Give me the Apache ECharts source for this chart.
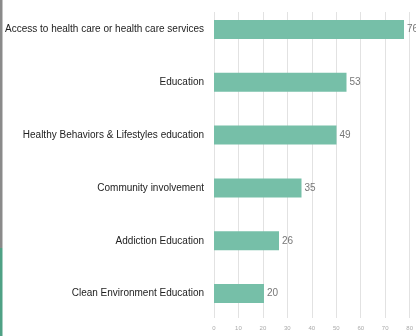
<!DOCTYPE html>
<html><head><meta charset="utf-8">
<script src="https://cdn.jsdelivr.net/npm/echarts@6/dist/echarts.min.js"></script>
<style>html,body{margin:0;padding:0;background:#fff}#c{width:416px;height:336px}</style>
</head><body><div id="c"></div>
<script>
const categories = ["Access to health care or health care services","Education","Healthy Behaviors & Lifestyles education","Community involvement","Addiction Education","Clean Environment Education"];
const values = [76, 53, 49, 35, 26, 20];
const tickMin = 0, tickMax = 80, tickStep = 10;

const chart = echarts.init(document.getElementById('c'), null, {renderer:'canvas'});
chart.setOption({
  animation:false,
  graphic:[
    {type:'rect', left:0, top:0, shape:{width:2.5, height:248}, style:{fill:'#8a8a8a'}},
    {type:'rect', left:0, top:248, shape:{width:2.5, height:88}, style:{fill:'#4fa185'}}
  ],
  grid:[
    {left:214, right:2, top:3, bottom:16},
    {left:214, right:2, top:12, bottom:18}
  ],
  xAxis:[
    {gridIndex:0, type:'value', min:tickMin, max:tickMax, interval:tickStep, show:false, splitLine:{show:false}},
    {gridIndex:1, type:'value', min:tickMin, max:tickMax, interval:tickStep,
     axisLine:{show:false}, axisTick:{show:false},
     axisLabel:{fontSize:6, color:'#aaa', margin:7, fontFamily:'Liberation Sans'},
     splitLine:{show:true, lineStyle:{color:'#e2e2e2', width:1}}}
  ],
  yAxis:[
    {gridIndex:0, type:'category', data:categories, inverse:true,
     axisLine:{show:false}, axisTick:{show:false},
     axisLabel:{fontSize:10, color:'#222', margin:10, fontFamily:'Liberation Sans'}},
    {gridIndex:1, type:'category', data:categories, show:false}
  ],
  series:[{
    type:'bar', xAxisIndex:0, yAxisIndex:0, data:values, barWidth:19,
    itemStyle:{color:'#76bfa8'},
    label:{show:true, position:'right', distance:3, fontSize:10, color:'#777', fontFamily:'Liberation Sans'}
  }]
});
</script></body></html>
